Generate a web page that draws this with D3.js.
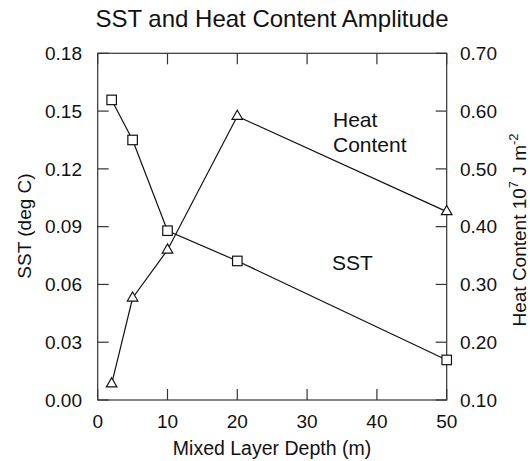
<!DOCTYPE html>
<html><head><meta charset="utf-8">
<script src="https://cdn.jsdelivr.net/npm/d3@7"></script>
<style>body{margin:0;background:#fff}svg{font-family:"Liberation Sans",Arial,sans-serif}</style>
</head><body><svg id="c" width="530" height="461"></svg>
<script>
const depths = [2, 5, 10, 20, 50];
const sst = [0.1558, 0.135, 0.0879, 0.0722, 0.0208];
const heat = [0.128, 0.2765, 0.3596, 0.591, 0.426];
const xTicks = [0, 10, 20, 30, 40, 50];
const leftTicks = [0, 0.03, 0.06, 0.09, 0.12, 0.15, 0.18];
const rightTicks = [0.1, 0.2, 0.3, 0.4, 0.5, 0.6, 0.7];

const svg = d3.select("#c");
const L = 97.7, R = 446.7, T = 53.3, B = 400;
const x = d3.scaleLinear().domain([0, 50]).range([L, R]);
const yL = d3.scaleLinear().domain([0, 0.18]).range([B, T]);
const yR = d3.scaleLinear().domain([0.1, 0.7]).range([B, T]);
const tl = 11, fs = 19, col = "#111";

svg.append("rect").attr("x", L).attr("y", T).attr("width", R - L).attr("height", B - T)
  .attr("fill", "none").attr("stroke", "#333").attr("stroke-width", 1.2);

const g = svg.append("g").attr("stroke", "#333").attr("stroke-width", 1.2);
xTicks.forEach(v => {
  g.append("line").attr("x1", x(v)).attr("x2", x(v)).attr("y1", B).attr("y2", B - tl);
  g.append("line").attr("x1", x(v)).attr("x2", x(v)).attr("y1", T).attr("y2", T + tl);
});
leftTicks.forEach(v => g.append("line").attr("x1", L).attr("x2", L + tl).attr("y1", yL(v)).attr("y2", yL(v)));
rightTicks.forEach(v => g.append("line").attr("x1", R).attr("x2", R - tl).attr("y1", yR(v)).attr("y2", yR(v)));

const t = svg.append("g").attr("fill", col).attr("font-size", fs);
xTicks.forEach(v => t.append("text").attr("x", x(v)).attr("y", 428).attr("text-anchor", "middle").text(v));
leftTicks.forEach(v => t.append("text").attr("x", 82).attr("y", yL(v)).attr("dy", "0.36em").attr("text-anchor", "end").text(d3.format(".2f")(v)));
rightTicks.forEach(v => t.append("text").attr("x", 460).attr("y", yR(v)).attr("dy", "0.36em").text(d3.format(".2f")(v)));

t.append("text").attr("x", 272).attr("y", 455).attr("text-anchor", "middle").attr("font-size", 19.5).text("Mixed Layer Depth (m)");
t.append("text").attr("transform", "translate(31,226) rotate(-90)").attr("text-anchor", "middle").text("SST (deg C)");
const rt = t.append("text").attr("transform", "translate(525.5,230) rotate(-90)").attr("text-anchor", "middle");
rt.append("tspan").text("Heat Content 10");
rt.append("tspan").attr("dy", -8).attr("font-size", 13).text("7");
rt.append("tspan").attr("dy", 8).text(" J m");
rt.append("tspan").attr("dy", -8).attr("font-size", 13).text("-2");

t.append("text").attr("x", 272).attr("y", 27).attr("text-anchor", "middle").attr("font-size", 24).text("SST and Heat Content Amplitude");
t.append("text").attr("x", 333).attr("y", 127).attr("font-size", 21).text("Heat");
t.append("text").attr("x", 333).attr("y", 151.5).attr("font-size", 21).text("Content");
t.append("text").attr("x", 332).attr("y", 270).attr("font-size", 21).text("SST");

const lineL = d3.line().x((d, i) => x(depths[i])).y(d => yL(d));
const lineR = d3.line().x((d, i) => x(depths[i])).y(d => yR(d));
svg.append("path").attr("d", lineL(sst)).attr("fill", "none").attr("stroke", col).attr("stroke-width", 1.2);
svg.append("path").attr("d", lineR(heat)).attr("fill", "none").attr("stroke", col).attr("stroke-width", 1.2);

const s = 9.5;
svg.selectAll(".sq").data(sst).enter().append("rect")
  .attr("x", (d, i) => x(depths[i]) - s / 2).attr("y", d => yL(d) - s / 2)
  .attr("width", s).attr("height", s).attr("fill", "#fff").attr("stroke", col).attr("stroke-width", 1.2);
const tri = d3.symbol().type(d3.symbolTriangle).size(48);
svg.selectAll(".tr").data(heat).enter().append("path")
  .attr("d", tri).attr("transform", (d, i) => `translate(${x(depths[i])},${yR(d)})`)
  .attr("fill", "#fff").attr("stroke", col).attr("stroke-width", 1.2);
</script></body></html>
